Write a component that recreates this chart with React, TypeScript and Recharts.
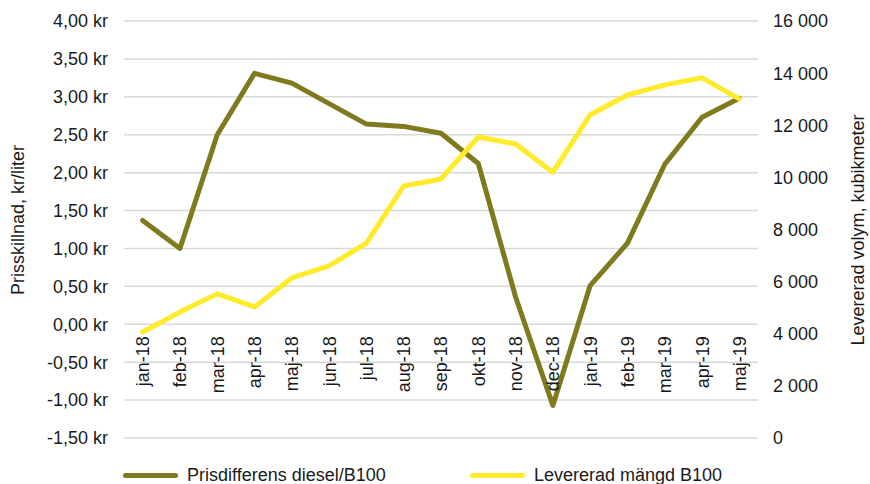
import { LineChart, Line, XAxis, YAxis, CartesianGrid, Legend } from 'recharts'

// Månadsdata jan-18 .. maj-19
const months = [
  'jan-18', 'feb-18', 'mar-18', 'apr-18', 'maj-18', 'jun-18', 'jul-18', 'aug-18', 'sep-18',
  'okt-18', 'nov-18', 'dec-18', 'jan-19', 'feb-19', 'mar-19', 'apr-19', 'maj-19',
]
const priceDiff = [1.37, 1.0, 2.5, 3.31, 3.18, 2.91, 2.64, 2.61, 2.52, 2.12, 0.36, -1.07, 0.51, 1.07, 2.11, 2.73, 2.98]
const volume = [4070, 4830, 5530, 5030, 6140, 6600, 7480, 9670, 9940, 11550, 11280, 10200, 12400, 13160, 13550, 13820, 13010]

const leftTicks = [-1.5, -1, -0.5, 0, 0.5, 1, 1.5, 2, 2.5, 3, 3.5, 4]
const rightTicks = [0, 2000, 4000, 6000, 8000, 10000, 12000, 14000, 16000]

const OLIVE = '#807A1F'
const YELLOW = '#FFEB2A'
const FONT = '"Liberation Sans", Arial, sans-serif'
const TEXT = '#1a1a1a'

const W = 870
const H = 484
const PLOT_TOP = 21
const PLOT_BOTTOM = 438
const LEFT_MIN = -1.5
const LEFT_MAX = 4
// y-position of the zero line, where Excel puts the category labels
const ZERO_Y = PLOT_TOP + ((PLOT_BOTTOM - PLOT_TOP) * LEFT_MAX) / (LEFT_MAX - LEFT_MIN)

const data = months.map((m, i) => ({ month: m, price: priceDiff[i], volume: volume[i] }))

function formatKr(v: number): string {
  return `${v.toFixed(2).replace('.', ',')} kr`
}

function formatVolume(v: number): string {
  return v >= 1000 ? `${Math.floor(v / 1000)} ${String(v % 1000).padStart(3, '0')}` : String(v)
}

function MonthTick(props: any) {
  const { x, payload } = props
  return (
    <text
      transform={`translate(${x},${ZERO_Y + 12}) rotate(-90)`}
      textAnchor="end"
      dy="0.36em"
      fontSize={18}
      fontFamily={FONT}
      fill={TEXT}
    >
      {payload.value}
    </text>
  )
}

function ChartLegend() {
  const items = [
    { label: 'Prisdifferens diesel/B100', color: OLIVE, left: 123 },
    { label: 'Levererad mängd B100', color: YELLOW, left: 470 },
  ]
  return (
    <div style={{ position: 'relative', height: 30, fontFamily: FONT, fontSize: 18, color: TEXT }}>
      {items.map((it) => (
        <div key={it.label}>
          <span
            style={{
              position: 'absolute',
              left: it.left,
              top: 19,
              width: 55,
              height: 5,
              borderRadius: 3,
              background: it.color,
            }}
          />
          <span style={{ position: 'absolute', left: it.left + 64, top: 11, lineHeight: '20px', whiteSpace: 'nowrap' }}>
            {it.label}
          </span>
        </div>
      ))}
    </div>
  )
}

export default function App() {
  return (
    <div style={{ position: 'absolute', left: 0, top: 0, width: W, height: H, background: '#fff' }}>
      <LineChart width={W} height={H} data={data} margin={{ top: PLOT_TOP, right: 0, bottom: 0, left: 0 }}>
        <CartesianGrid yAxisId="left" horizontal vertical={false} stroke="#d9d9d9" strokeWidth={1.5} />
        <XAxis
          dataKey="month"
          scale="band"
          axisLine={false}
          tickLine={false}
          interval={0}
          height={16}
          tick={<MonthTick />}
        />
        <YAxis
          yAxisId="left"
          domain={[LEFT_MIN, LEFT_MAX]}
          ticks={leftTicks}
          tickFormatter={formatKr}
          axisLine={false}
          tickLine={false}
          tickSize={6}
          tickMargin={10}
          width={124}
          tick={{ fontSize: 18, fontFamily: FONT, fill: TEXT }}
          label={{
            content: () => (
              <text
                transform="translate(18,220) rotate(-90)"
                textAnchor="middle"
                dy="0.36em"
                fontSize={18}
                fontFamily={FONT}
                fill={TEXT}
              >
                Prisskillnad, kr/liter
              </text>
            ),
          }}
        />
        <YAxis
          yAxisId="right"
          orientation="right"
          domain={[0, 16000]}
          ticks={rightTicks}
          tickFormatter={formatVolume}
          axisLine={false}
          tickLine={false}
          tickSize={6}
          tickMargin={9}
          width={112}
          tick={{ fontSize: 18, fontFamily: FONT, fill: TEXT, textAnchor: 'start' }}
          label={{
            content: () => (
              <text
                transform="translate(858,230) rotate(-90)"
                textAnchor="middle"
                dy="0.36em"
                fontSize={18}
                fontFamily={FONT}
                fill={TEXT}
              >
                Levererad volym, kubikmeter
              </text>
            ),
          }}
        />
        <Legend verticalAlign="bottom" height={30} content={() => <ChartLegend />} />
        <Line
          yAxisId="left"
          type="linear"
          dataKey="price"
          name="Prisdifferens diesel/B100"
          stroke={OLIVE}
          strokeWidth={5}
          strokeLinejoin="round"
          strokeLinecap="round"
          dot={false}
          activeDot={false}
          isAnimationActive={false}
        />
        <Line
          yAxisId="right"
          type="linear"
          dataKey="volume"
          name="Levererad mängd B100"
          stroke={YELLOW}
          strokeWidth={5}
          strokeLinejoin="round"
          strokeLinecap="round"
          dot={false}
          activeDot={false}
          isAnimationActive={false}
        />
      </LineChart>
    </div>
  )
}
